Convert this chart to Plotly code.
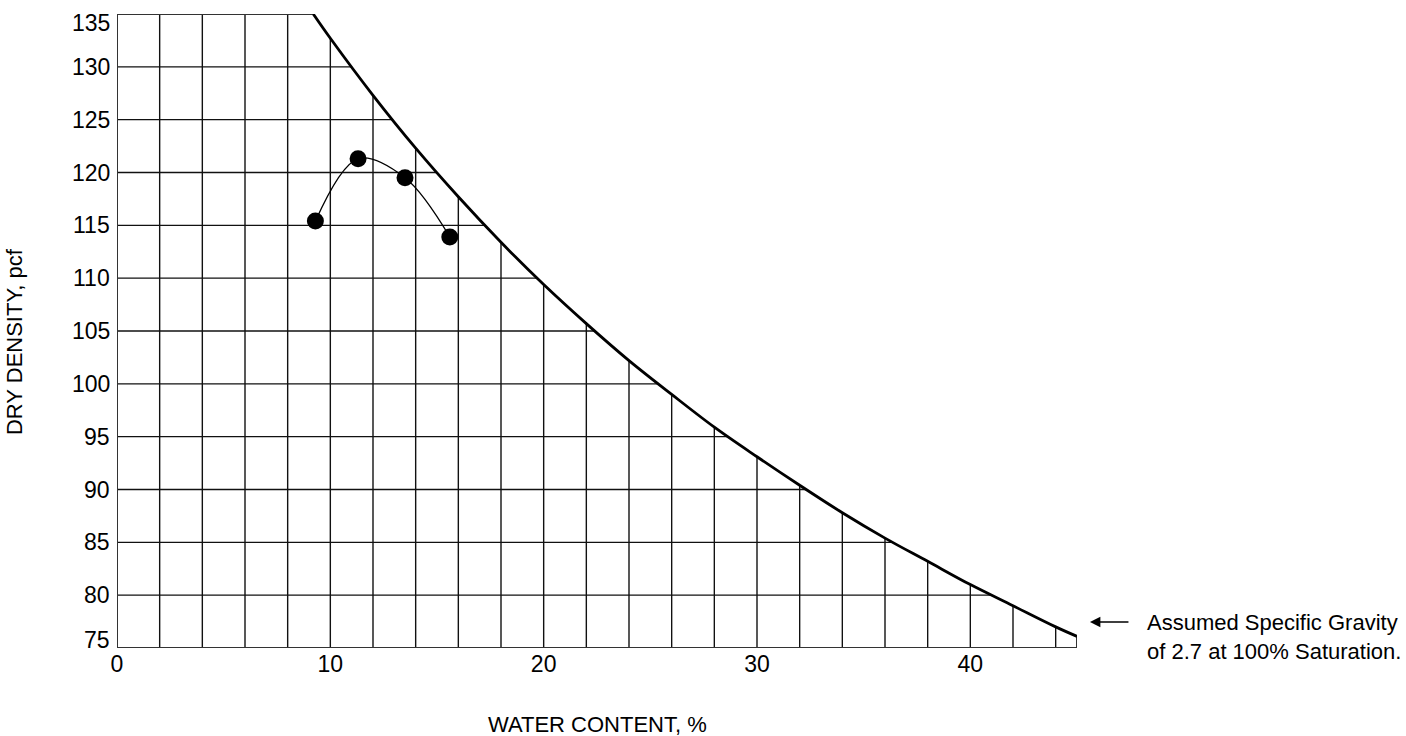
import numpy as np
import plotly.graph_objects as go

# Compaction test points (water content %, dry density pcf)
test_w = [9.3, 11.3, 13.5, 15.6]
test_dd = [115.4, 121.3, 119.5, 113.9]

# 100% saturation curve (Gs = 2.7)
sat_w = [9.2, 10, 12, 14, 16, 18, 20, 22, 24, 26, 28, 30, 32, 34, 36, 38, 40, 42, 44, 45]
sat_dd = [135.0, 132.7, 127.3, 122.3, 117.7, 113.4, 109.4, 105.7, 102.2, 99.0, 95.9,
          93.1, 90.4, 87.8, 85.4, 83.2, 81.0, 79.0, 77.0, 76.1]

x_ticks = [0, 10, 20, 30, 40]
y_ticks = [75, 80, 85, 90, 95, 100, 105, 110, 115, 120, 125, 130, 135]
x_grid = list(range(2, 45, 2))
y_grid = list(range(80, 135, 5))

X_MIN, X_MAX, Y_MIN, Y_MAX = 0, 45, 75, 135
TICK_FONT = 23
LABEL_FONT = 22

fig = go.Figure()

# clipped grid lines
gx, gy = [], []
for xv in x_grid:
    top = min(Y_MAX, float(np.interp(xv, sat_w, sat_dd)))
    gx += [xv, xv, None]
    gy += [Y_MIN, top, None]
rw, rd = sat_w[::-1], sat_dd[::-1]
for yv in y_grid:
    right = float(np.interp(yv, rd, rw))
    gx += [X_MIN, right, None]
    gy += [yv, yv, None]
fig.add_trace(go.Scatter(x=gx, y=gy, mode="lines", line=dict(color="#111", width=1.4),
                         hoverinfo="skip", showlegend=False))

# frame
fx = [X_MIN, X_MIN, None, X_MIN, sat_w[0], None, X_MIN, X_MAX, None, X_MAX, X_MAX]
fy = [Y_MIN, Y_MAX, None, Y_MAX, Y_MAX, None, Y_MIN, Y_MIN, None, Y_MIN, sat_dd[-1]]
fig.add_trace(go.Scatter(x=fx, y=fy, mode="lines", line=dict(color="#333", width=2),
                         hoverinfo="skip", showlegend=False, cliponaxis=False))

# saturation curve
fig.add_trace(go.Scatter(x=sat_w, y=sat_dd, mode="lines", line=dict(color="black", width=2.8, shape="spline"),
                         showlegend=False, cliponaxis=False))

# compaction curve
fig.add_trace(go.Scatter(x=test_w, y=test_dd, mode="lines+markers",
                         line=dict(color="black", width=1.3, shape="spline", smoothing=1.0),
                         marker=dict(color="black", size=17),
                         showlegend=False, cliponaxis=False))

fig.update_xaxes(range=[X_MIN, X_MAX], tickvals=x_ticks, showgrid=False, zeroline=False,
                 showline=False, ticks="", tickfont=dict(size=TICK_FONT, color="black"))
fig.update_yaxes(range=[Y_MIN, Y_MAX], tickvals=y_ticks, showgrid=False, zeroline=False,
                 showline=False, ticks="", showticklabels=False)

annotations = []
for yv in y_ticks:
    shift = -9 if yv == Y_MAX else (8 if yv == Y_MIN else 0)
    annotations.append(dict(text=str(yv), xref="paper", yref="y", x=-5 / 960, y=yv,
                            xanchor="right", yanchor="middle", yshift=shift, showarrow=False,
                            font=dict(size=TICK_FONT)))

annotations += [
    dict(text="WATER CONTENT, %", xref="paper", yref="paper", x=0.5, y=-0.12,
         xanchor="center", yanchor="middle", showarrow=False, font=dict(size=LABEL_FONT)),
    dict(text="DRY DENSITY, pcf", xref="paper", yref="paper", x=-0.106, y=0.483,
         xanchor="center", yanchor="middle", showarrow=False, textangle=-90, font=dict(size=LABEL_FONT)),
    dict(text="Assumed Specific Gravity<br>of 2.7 at 100% Saturation.", xref="paper", yref="paper",
         x=1.0708, y=0.017, xanchor="left", yanchor="middle", align="left", showarrow=False,
         font=dict(size=LABEL_FONT)),
    dict(text="", xref="paper", yref="paper", x=1.0135, y=0.041, ax=40, ay=0,
         showarrow=True, arrowhead=2, arrowsize=1.6, arrowwidth=1.3, arrowcolor="black"),
]

fig.update_layout(
    width=1406, height=736,
    margin=dict(l=117, r=329, t=14, b=88),
    paper_bgcolor="white", plot_bgcolor="white",
    font=dict(family="Liberation Sans, Arial, sans-serif", color="black"),
    annotations=annotations,
)

fig.write_html("out.html")
